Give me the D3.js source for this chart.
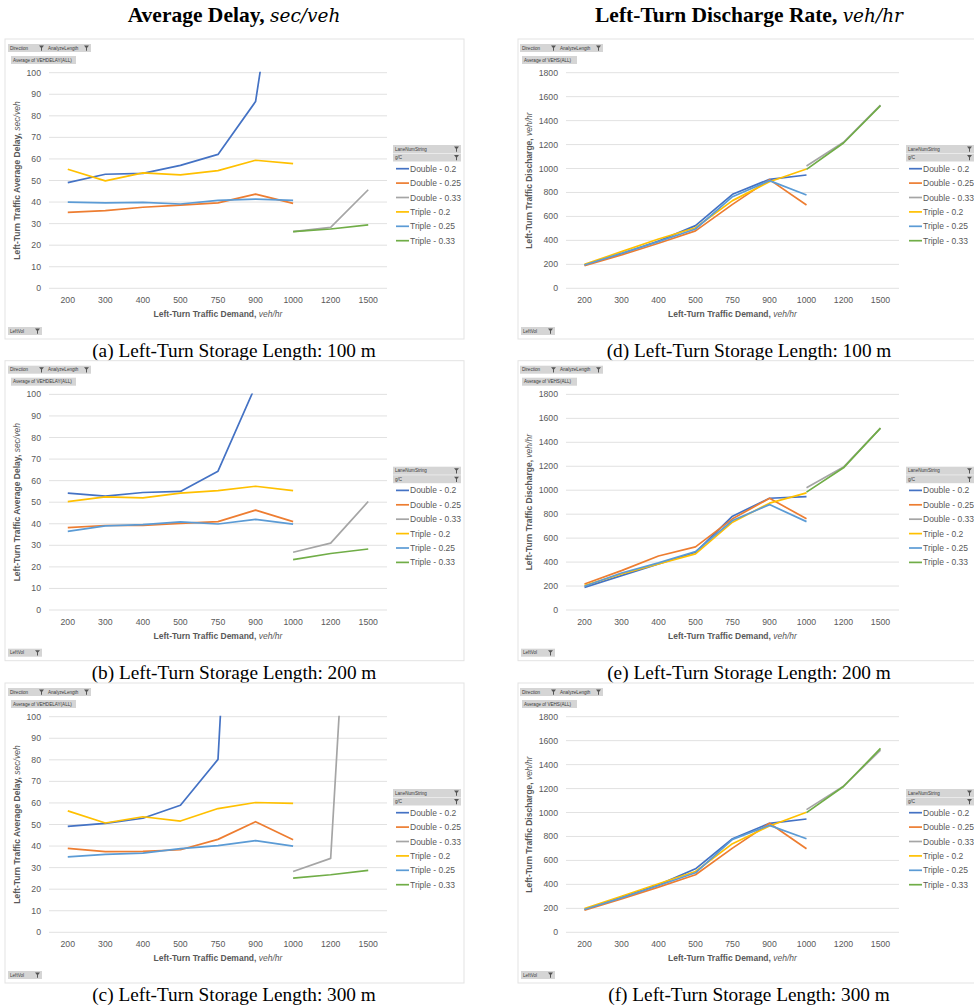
<!DOCTYPE html>
<html lang="en">
<head>
<meta charset="UTF-8">
<title>Left-turn storage length charts</title>
<script src="https://d3js.org/d3.v7.min.js"></script>
<style>
  body { margin: 0; background: #fff; }
  svg { display: block; }
  .tick-label { font-family: "Liberation Sans", Arial, sans-serif; font-size: 8.7px; fill: #595959; }
  .axis-title { font-family: "Liberation Sans", Arial, sans-serif; font-size: 8.5px; fill: #595959; }
  .legend-label { font-family: "Liberation Sans", Arial, sans-serif; font-size: 8.5px; fill: #595959; }
  .btn-label { font-family: "Liberation Sans", Arial, sans-serif; font-size: 4.6px; fill: #3a3a3a; }
  .caption { font-family: "Liberation Serif", "Times New Roman", serif; font-size: 19.3px; fill: #000; }
</style>
</head>
<body>
<svg id="fig" width="974" height="1007"></svg>
<script>
// x categories (left-turn demand, veh/hr)
const categories = ['200', '300', '400', '500', '750', '900', '1000', '1200', '1500'];
const seriesNames = ['Double - 0.2', 'Double - 0.25', 'Double - 0.33', 'Triple - 0.2', 'Triple - 0.25', 'Triple - 0.33'];
const seriesColors = ['#4472C4', '#ED7D31', '#A5A5A5', '#FFC000', '#5B9BD5', '#70AD47'];

const delayTicks = [0, 10, 20, 30, 40, 50, 60, 70, 80, 90, 100];
const dischargeTicks = [0, 200, 400, 600, 800, 1000, 1200, 1400, 1600, 1800];

// average delay, sec/veh (rows follow seriesNames)
const delay100 = [
  [49.0, 52.9, 53.3, 57.0, 62.1, 86.6, 200, null, null],
  [35.2, 36.0, 37.6, 38.6, 39.6, 43.7, 39.4, null, null],
  [null, null, null, null, null, null, 26.3, 28.3, 45.7],
  [55.2, 49.8, 53.5, 52.6, 54.6, 59.4, 57.8, null, null],
  [40.0, 39.6, 39.9, 39.1, 40.8, 41.4, 40.8, null, null],
  [null, null, null, null, null, null, 26.3, 27.5, 29.4]
];
const delay200 = [
  [54.2, 52.8, 54.5, 55.0, 64.4, 104, 130, null, null],
  [38.2, 39.2, 39.2, 40.2, 41.0, 46.3, 41.0, null, null],
  [null, null, null, null, null, null, 26.8, 31.0, 50.3],
  [50.3, 52.5, 52.0, 54.2, 55.4, 57.4, 55.4, null, null],
  [36.5, 39.0, 39.6, 40.9, 39.9, 42.0, 39.8, null, null],
  [null, null, null, null, null, null, 23.4, 26.2, 28.3]
];
const delay300 = [
  [49.1, 50.5, 52.9, 58.9, 80.2, 400, 420, null, null],
  [38.9, 37.4, 37.5, 38.3, 43.1, 51.3, 42.9, null, null],
  [null, null, null, null, null, null, 28.2, 34.3, 330],
  [56.3, 50.7, 53.6, 51.6, 57.4, 60.2, 59.8, null, null],
  [35.0, 36.1, 36.7, 38.8, 40.2, 42.5, 40.0, null, null],
  [null, null, null, null, null, null, 25.1, 26.7, 28.7]
];

// left-turn discharge, veh/hr
const discharge100 = [
  [195, 289, 395, 523, 785, 910, 946, null, null],
  [189, 278, 376, 479, 701, 907, 696, null, null],
  [null, null, null, null, null, null, 1021, 1219, 1530],
  [200, 306, 412, 506, 732, 890, 996, null, null],
  [195, 292, 390, 495, 765, 899, 779, null, null],
  [null, null, null, null, null, null, 993, 1213, 1525]
];
const discharge200 = [
  [189, 287, 385, 482, 783, 933, 947, null, null],
  [217, 329, 451, 527, 761, 933, 761, null, null],
  [null, null, null, null, null, null, 1020, 1193, 1519],
  [203, 301, 385, 468, 733, 892, 978, null, null],
  [198, 309, 393, 488, 747, 880, 738, null, null],
  [null, null, null, null, null, null, 984, 1187, 1519]
];
const discharge300 = [
  [190, 293, 396, 530, 781, 910, 946, null, null],
  [184, 279, 377, 480, 703, 910, 698, null, null],
  [null, null, null, null, null, null, 1024, 1220, 1521],
  [198, 301, 405, 508, 740, 887, 1002, null, null],
  [190, 287, 391, 497, 776, 893, 781, null, null],
  [null, null, null, null, null, null, 999, 1217, 1535]
];

const svg = d3.select('#fig');

// column layouts (panel-relative)
const columns = [
  { x: 5, width: 459, plotL: 44, plotR: 382, tickX: 36, yTitleX: 15, center: 234,
    heading: 'Average Delay, ', headingUnit: 'sec/veh',
    measure: 'Average of VEHDELAY(ALL)', measureW: 65, yTitle: 'Left-Turn Traffic Average Delay, ', yUnit: 'sec/veh',
    ticks: delayTicks, yMax: 100, legX: 388, legW: 68 },
  { x: 518, width: 470, plotL: 48, plotR: 381, tickX: 40, yTitleX: 14, center: 749,
    heading: 'Left-Turn Discharge Rate, ', headingUnit: 'veh/hr',
    measure: 'Average of VEHS(ALL)', measureW: 55, yTitle: 'Left-Turn Traffic Discharge, ', yUnit: 'veh/hr',
    ticks: dischargeTicks, yMax: 1800, legX: 388, legW: 68 }
];
const rowTops = [39, 360.7, 683];

const panels = [
  { col: 0, row: 0, data: delay100, caption: '(a) Left-Turn Storage Length: 100 m' },
  { col: 0, row: 1, data: delay200, caption: '(b) Left-Turn Storage Length: 200 m' },
  { col: 0, row: 2, data: delay300, caption: '(c) Left-Turn Storage Length: 300 m' },
  { col: 1, row: 0, data: discharge100, caption: '(d) Left-Turn Storage Length: 100 m' },
  { col: 1, row: 1, data: discharge200, caption: '(e) Left-Turn Storage Length: 200 m' },
  { col: 1, row: 2, data: discharge300, caption: '(f) Left-Turn Storage Length: 300 m' }
];

// column headings
columns.forEach(c => {
  const t = svg.append('text')
    .attr('x', c.center)
    .attr('y', 22)
    .attr('text-anchor', 'middle');
  t.append('tspan')
    .style('font-family', '"Liberation Serif", "Times New Roman", serif')
    .style('font-weight', 'bold')
    .style('font-size', '21.5px')
    .text(c.heading);
  t.append('tspan')
    .style('font-family', '"DejaVu Serif", serif')
    .style('font-style', 'italic')
    .style('font-size', '18.5px')
    .text(c.headingUnit);
});

// small funnel icon used on the pivot buttons
function funnel(g, x, y) {
  g.append('path')
    .attr('d', `M${x},${y} h5 l-2,2.4 v2.8 h-1 v-2.8 z`)
    .attr('fill', '#555');
}

function button(g, x, y, w, label, withFunnel) {
  g.append('rect')
    .attr('x', x).attr('y', y)
    .attr('width', w).attr('height', 8)
    .attr('fill', '#d5d5d5');
  g.append('text')
    .attr('class', 'btn-label')
    .attr('x', x + 2).attr('y', y + 5.8)
    .text(label);
  if (withFunnel) funnel(g, x + w - 7, y + 1.5);
}

let clipId = 0;

panels.forEach(p => {
  const c = columns[p.col];
  const g = svg.append('g')
    .attr('transform', `translate(${c.x},${rowTops[p.row]})`);

  // chart frame
  g.append('rect')
    .attr('x', 0).attr('y', 0)
    .attr('width', c.width).attr('height', 300)
    .attr('fill', '#fff')
    .attr('stroke', '#e3e3e3')
    .attr('stroke-width', 1);

  const xScale = d3.scalePoint().domain(categories).range([c.plotL, c.plotR]).padding(0.5);
  const yScale = d3.scaleLinear().domain([0, c.yMax]).range([249.3, 33.7]);

  // gridlines
  g.selectAll('line.grid')
    .data(c.ticks)
    .enter()
    .append('line')
    .attr('class', 'grid')
    .attr('x1', c.plotL).attr('x2', c.plotR)
    .attr('y1', d => yScale(d)).attr('y2', d => yScale(d))
    .attr('stroke', '#d9d9d9')
    .attr('stroke-width', 0.8);

  // y tick labels
  g.selectAll('text.ytick')
    .data(c.ticks)
    .enter()
    .append('text')
    .attr('class', 'tick-label ytick')
    .attr('x', c.tickX)
    .attr('y', d => yScale(d) + 3)
    .attr('text-anchor', 'end')
    .text(d => d);

  // x tick labels
  g.selectAll('text.xtick')
    .data(categories)
    .enter()
    .append('text')
    .attr('class', 'tick-label xtick')
    .attr('x', d => xScale(d))
    .attr('y', 264)
    .attr('text-anchor', 'middle')
    .text(d => d);

  // x axis title
  const xt = g.append('text')
    .attr('class', 'axis-title')
    .attr('x', (c.plotL + c.plotR) / 2)
    .attr('y', 278)
    .attr('text-anchor', 'middle');
  xt.append('tspan').style('font-weight', 'bold').text('Left-Turn Traffic Demand, ');
  xt.append('tspan').style('font-style', 'italic').text('veh/hr');

  // y axis title
  const yt = g.append('text')
    .attr('class', 'axis-title')
    .attr('transform', `translate(${c.yTitleX},${(yScale(0) + yScale(c.yMax)) / 2}) rotate(-90)`)
    .attr('text-anchor', 'middle');
  yt.append('tspan').style('font-weight', 'bold').text(c.yTitle);
  yt.append('tspan').style('font-style', 'italic').text(c.yUnit);

  // clip lines to plot area like the spreadsheet does
  const cid = 'clip' + (clipId++);
  g.append('clipPath').attr('id', cid)
    .append('rect')
    .attr('x', c.plotL).attr('y', yScale(c.yMax) - 1)
    .attr('width', c.plotR - c.plotL)
    .attr('height', yScale(0) - yScale(c.yMax) + 2);

  const line = d3.line()
    .defined(d => d.v != null)
    .x(d => xScale(d.k))
    .y(d => yScale(d.v));

  g.append('g')
    .attr('clip-path', `url(#${cid})`)
    .selectAll('path.series')
    .data(p.data.map((vals, i) => ({ i, pts: vals.map((v, j) => ({ k: categories[j], v })) })))
    .enter()
    .append('path')
    .attr('class', 'series')
    .attr('d', d => line(d.pts))
    .attr('fill', 'none')
    .attr('stroke', d => seriesColors[d.i])
    .attr('stroke-width', 1.7)
    .attr('stroke-linejoin', 'round');

  // pivot buttons
  const bx = p.col === 0 ? 3 : 2;
  const fb = g.append('g');
  button(fb, bx, 5, 83, 'Direction', false);
  fb.append('text').attr('class', 'btn-label')
    .attr('x', bx + 40).attr('y', 10.8).text('AnalyzeLength');
  funnel(fb, bx + 31, 6.5);
  funnel(fb, bx + 76, 6.5);
  button(fb, p.col === 0 ? 6 : 4, 17, c.measureW, c.measure, false);
  button(fb, 3, 288, 34, 'LeftVol', true);

  // legend
  const lg = g.append('g').attr('transform', `translate(${c.legX},106)`);
  button(lg, 0, 0, c.legW, 'LaneNumString', true);
  button(lg, 0, 8.5, c.legW, 'g/C', true);
  seriesNames.forEach((name, i) => {
    const yy = 23.7 + i * 14.4;
    lg.append('line')
      .attr('x1', 3).attr('x2', 16)
      .attr('y1', yy).attr('y2', yy)
      .attr('stroke', seriesColors[i])
      .attr('stroke-width', 1.7);
    lg.append('text')
      .attr('class', 'legend-label')
      .attr('x', 17)
      .attr('y', yy + 3)
      .text(name);
  });

  // caption
  g.append('text')
    .attr('class', 'caption')
    .attr('x', c.center - c.x)
    .attr('y', 318)
    .attr('text-anchor', 'middle')
    .text(p.caption);
});
</script>
</body>
</html>
